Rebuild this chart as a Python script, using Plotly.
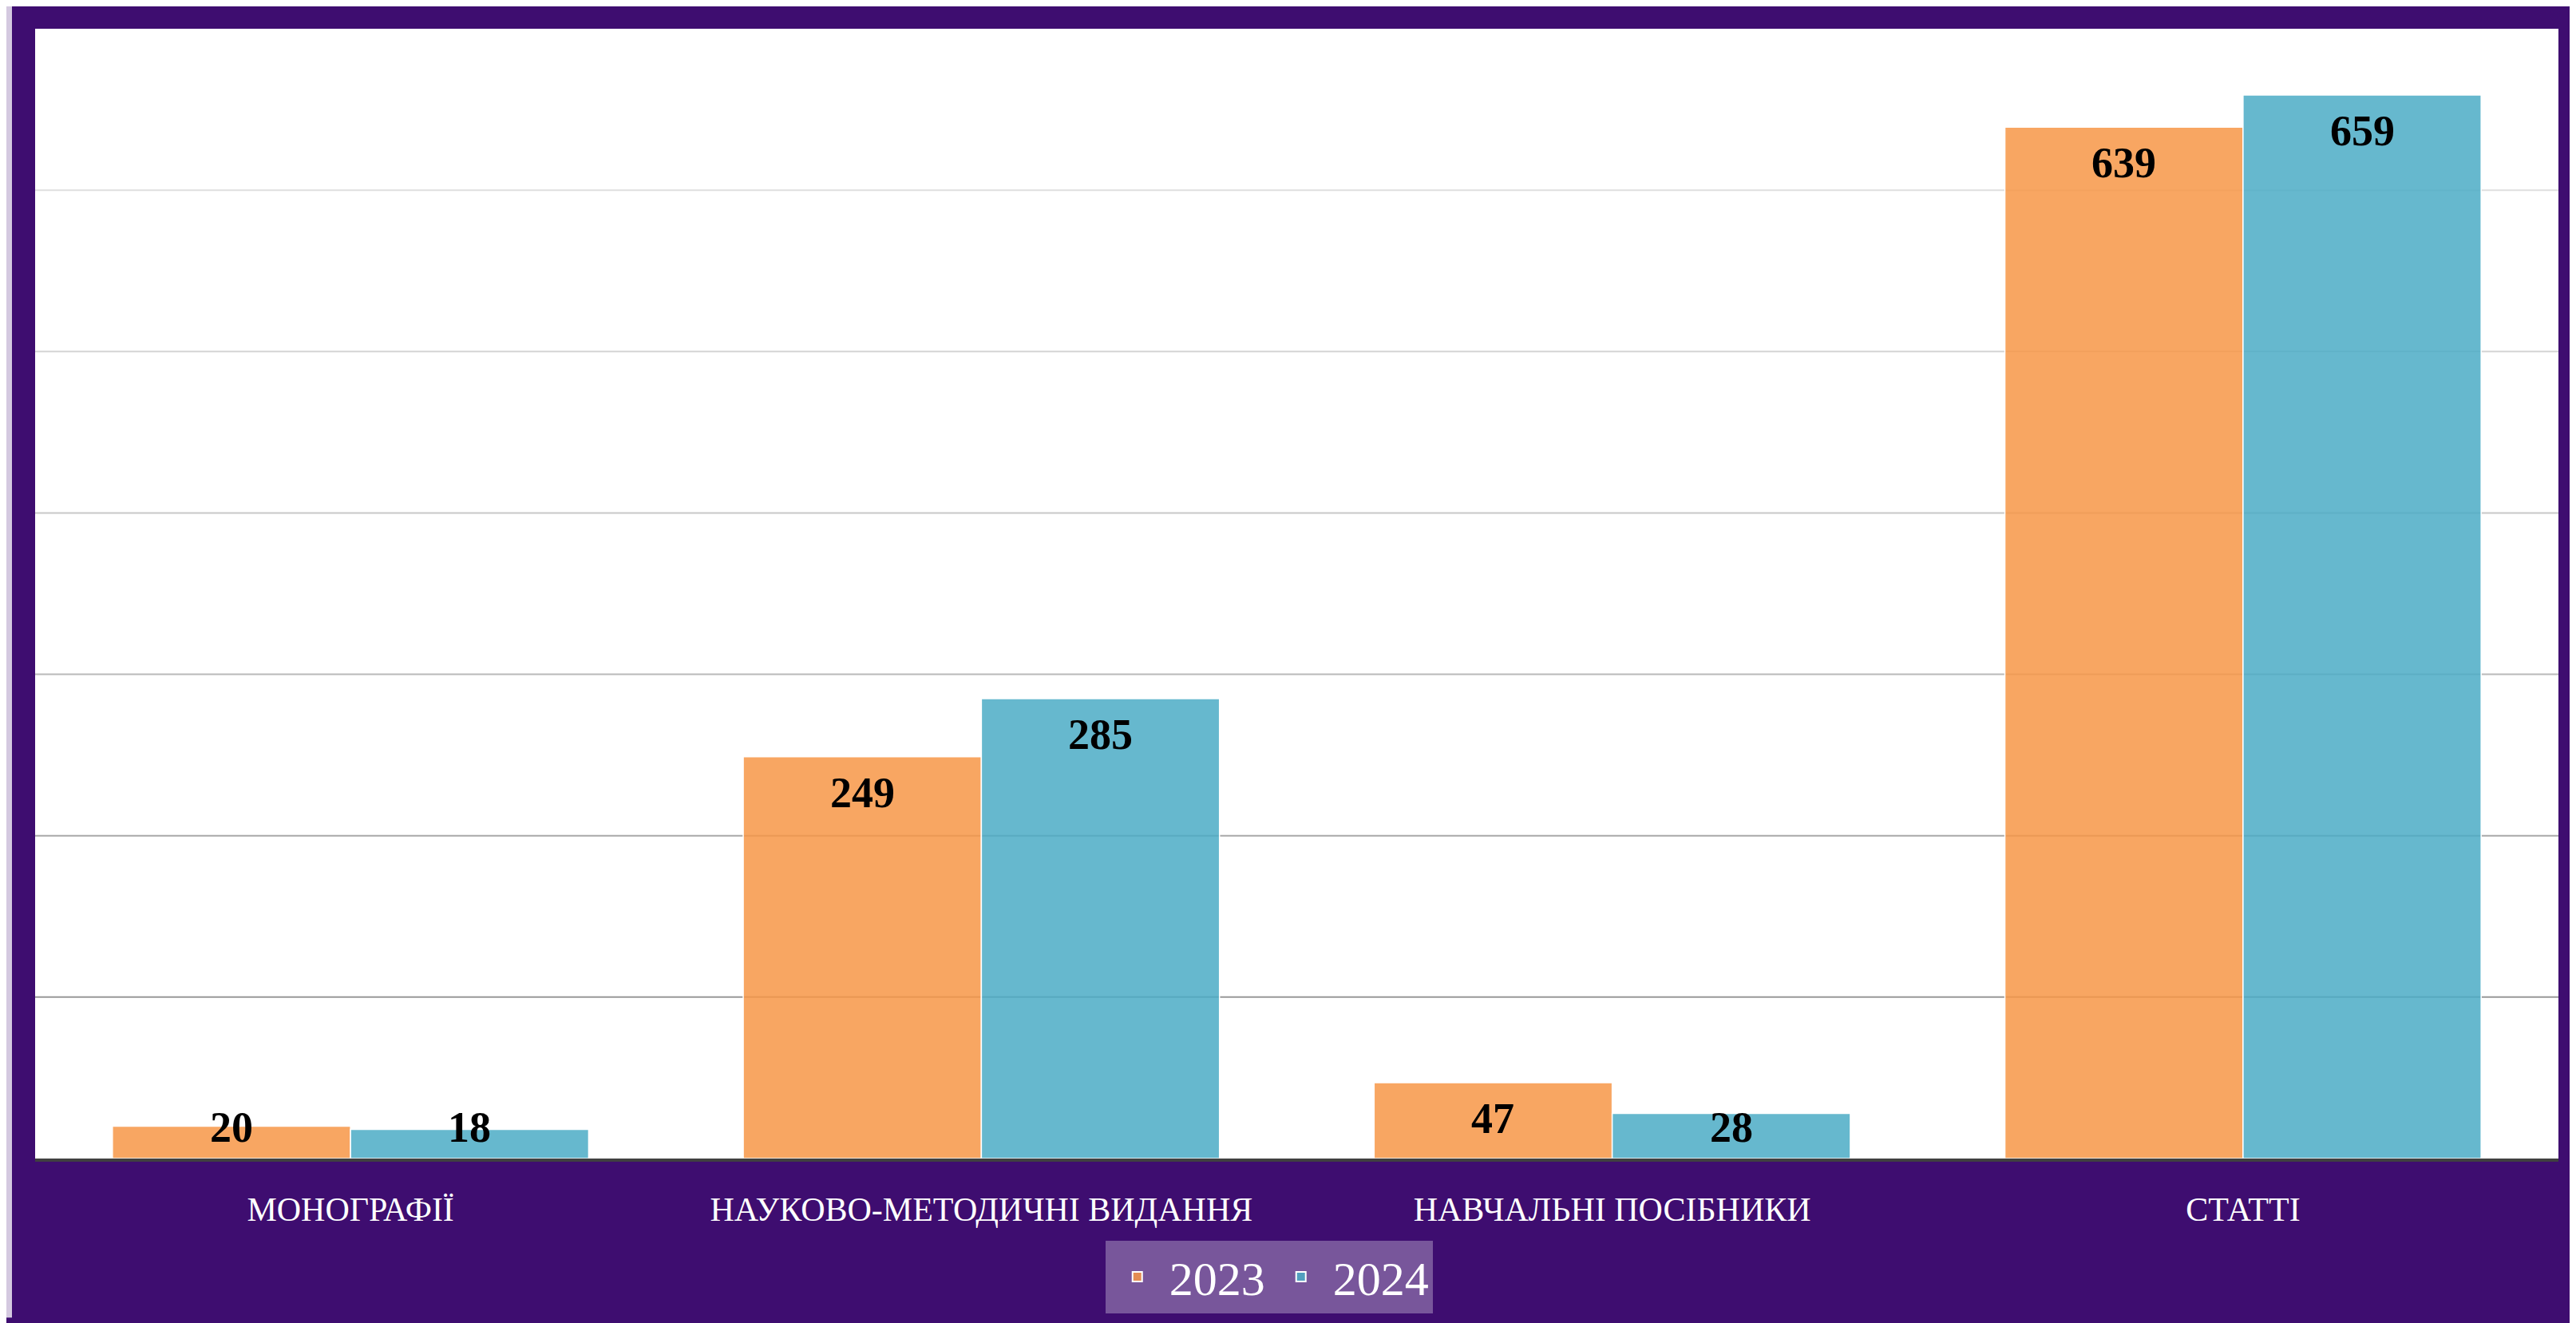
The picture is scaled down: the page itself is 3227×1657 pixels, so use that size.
import plotly.graph_objects as go

# ---- data ----
categories = ["МОНОГРАФІЇ", "НАУКОВО-МЕТОДИЧНІ ВИДАННЯ", "НАВЧАЛЬНІ ПОСІБНИКИ", "СТАТТІ"]
series_names = ["2023", "2024"]
values_2023 = [20, 249, 47, 639]
values_2024 = [18, 285, 28, 659]
grid_values = [100, 200, 300, 400, 500, 600]
y_max = 700

# ---- styles ----
W, H = 3219, 1649          # page has an 8px body margin
ML, MR, MT, MB = 36, 22, 28, 200
PW, PH = W - ML - MR, H - MT - MB
BARGAP = 0.245
PURPLE = "#3e0d70"
colors = ["rgba(247,150,70,0.85)", "rgba(75,172,198,0.85)"]
grid_colors = ["#999999", "#a9a9a9", "#b9b9b9", "#c8c8c8", "#d4d4d4", "#dfdfdf"]
serif = "Liberation Serif, DejaVu Serif, serif"
label_font = dict(family=serif, size=54, color="black", weight="bold")

fig = go.Figure()
for name, vals, col in zip(series_names, [values_2023, values_2024], colors):
    fig.add_trace(go.Bar(
        x=categories, y=vals, name=name,
        marker=dict(color=col, line=dict(color="white", width=1.5)),
        hoverinfo="x+y",
    ))

# data labels (inside end, clamped above baseline for short bars)
px_per_unit = PH / y_max
bar_px = PW / len(categories) * (1 - BARGAP) / 2
for i, vals in enumerate([values_2023, values_2024]):
    xs = (i - 0.5) * bar_px
    for c, v in zip(categories, vals):
        if v * px_per_unit - 45 >= 39:
            yy, ys = v, -45
        else:
            yy, ys = 0, 39
        fig.add_annotation(x=c, y=yy, xref="x", yref="y", text=str(v), showarrow=False,
                           xshift=xs, yshift=ys, yanchor="middle", font=label_font)

def px2x(p):
    return (p - ML) / PW
def py2y(p):
    return (H - MB - p) / PH

shapes = []
# gridlines with graded colour
for gv, gc in zip(grid_values, grid_colors):
    shapes.append(dict(type="line", xref="paper", yref="y", x0=0, x1=1, y0=gv, y1=gv,
                       line=dict(color=gc, width=2), layer="below"))
# light outer strip on the left
shapes.append(dict(type="rect", xref="paper", yref="paper", x0=px2x(0), x1=px2x(7),
                   y0=py2y(H), y1=py2y(0), fillcolor="#d4c9e0", line=dict(width=0), layer="below"))

fig.update_layout(
    width=W, height=H,
    margin=dict(l=ML, r=MR, t=MT, b=MB),
    paper_bgcolor=PURPLE,
    plot_bgcolor="white",
    barmode="group",
    bargap=BARGAP,
    bargroupgap=0,
    shapes=shapes,
    showlegend=True,
    legend=dict(
        orientation="h", x=0.489, xanchor="center", y=py2y(1552), yanchor="top",
        bgcolor="rgba(255,255,255,0.3)",
        font=dict(family=serif, size=60, color="white"),
        itemwidth=70,
        itemsizing="constant",
    ),
    xaxis=dict(
        showgrid=False, showline=True, linecolor="#404040", linewidth=4,
        ticks="", ticklabelstandoff=24,
        tickfont=dict(family=serif, size=42, color="white"),
    ),
    yaxis=dict(
        range=[0, y_max], showgrid=False, showticklabels=False, zeroline=False,
        showline=False, ticks="",
    ),
)

fig.write_html("out.html")
